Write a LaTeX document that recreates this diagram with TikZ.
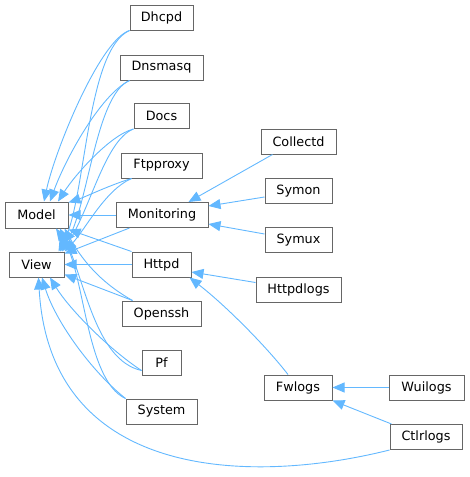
\documentclass[tikz,border=0pt]{standalone}
\usepackage{fontspec}
\setmainfont{DejaVu Sans}
\usetikzlibrary{arrows.meta}
\definecolor{edgeblue}{HTML}{63B8FF}
\definecolor{boxgray}{HTML}{666666}
\begin{document}
\begin{tikzpicture}[x=1pt,y=-1pt,
  cls/.style={draw=boxgray, fill=white, line width=1pt, minimum height=25pt, inner sep=0pt,
              font=\fontsize{12.8}{15}\selectfont, text=black},
  inh/.style={draw=edgeblue, line width=0.9pt, -{Triangle[length=12pt,width=10pt]}}]
\useasboundingbox (0,0) rectangle (469,477);
% nodes
\node[cls, minimum width=63pt] (Dhcpd) at (161.5,17.5) {Dhcpd};
\node[cls, minimum width=83pt] (Dnsmasq) at (161.5,67.5) {Dnsmasq};
\node[cls, minimum width=55pt] (Docs) at (161.5,116) {Docs};
\node[cls, minimum width=81pt] (Ftpproxy) at (161.5,165.5) {Ftpproxy};
\node[cls, minimum width=63pt, minimum height=26pt] (Model) at (36.5,215) {Model};
\node[cls, minimum width=92pt] (Monitoring) at (162,215) {Monitoring};
\node[cls, minimum width=55pt] (View) at (36.5,264.5) {View};
\node[cls, minimum width=59pt] (Httpd) at (161.5,264.5) {Httpd};
\node[cls, minimum width=79pt] (Openssh) at (161.5,313.5) {Openssh};
\node[cls, minimum width=39pt] (Pf) at (161.5,362.5) {Pf};
\node[cls, minimum width=71pt] (System) at (161.5,411.5) {System};
\node[cls, minimum width=75pt] (Collectd) at (298.5,141.5) {Collectd};
\node[cls, minimum width=67pt] (Symon) at (298.5,191) {Symon};
\node[cls, minimum width=67pt] (Symux) at (298.5,240) {Symux};
\node[cls, minimum width=85pt] (Httpdlogs) at (298.5,289.5) {Httpdlogs};
\node[cls, minimum width=68pt] (Fwlogs) at (298,387.5) {Fwlogs};
\node[cls, minimum width=75pt] (Wuilogs) at (426.5,387.5) {Wuilogs};
\node[cls, minimum width=72pt] (Ctlrlogs) at (426,437) {Ctlrlogs};
% edges into Model / View from above
\draw[inh] (Dhcpd.south west) .. controls (100,40) and (55,150) .. ([xshift=7.5pt]Model.north);
\draw[inh] (Dhcpd.south west) .. controls (86,50) and (86,200) .. ([xshift=22pt]View.north);
\draw[inh] ([xshift=10pt]Dnsmasq.south west) .. controls (100,95) and (65,160) .. ([xshift=13.5pt]Model.north);
\draw[inh] ([xshift=10pt]Dnsmasq.south west) .. controls (95,95) and (88,210) .. ([xshift=23.5pt]View.north);
\draw[inh] (Docs.south west) .. controls (110,135) and (75,175) .. ([xshift=21.5pt]Model.north);
\draw[inh] (Docs.south west) .. controls (105,140) and (90,210) .. ([xshift=25.5pt]View.north);
\draw[inh] ([xshift=11pt]Ftpproxy.south west) .. controls (110,185) and (85,197) .. ([yshift=-1pt]Model.north east);
\draw[inh] ([xshift=11pt]Ftpproxy.south west) .. controls (105,190) and (85,230) .. (View.north east);
% Monitoring
\draw[inh] (Monitoring.west) -- (Model.east);
\draw[inh] ([xshift=14pt]Monitoring.south west) -- ([yshift=-2pt]View.north east);
% Httpd
\draw[inh] (Httpd.north west) -- ([yshift=-1pt]Model.south east);
\draw[inh] (Httpd.west) -- (View.east);
% Openssh
\draw[inh] ([xshift=11pt]Openssh.north west) .. controls (105,285) and (85,265) .. ([xshift=-4pt]Model.south east);
\draw[inh] ([xshift=11pt]Openssh.north west) -- ([yshift=3pt]View.south east);
% Pf
\draw[inh] ([yshift=-8pt]Pf.west) .. controls (95,360) and (85,280) .. ([xshift=23.5pt]Model.south);
\draw[inh] ([yshift=-8pt]Pf.west) .. controls (110,350) and (70,310) .. ([xshift=13.5pt]View.south);
% System
\draw[inh] (System.north west) .. controls (85,380) and (85,270) .. ([xshift=19.5pt]Model.south);
\draw[inh] (System.north west) .. controls (90,370) and (55,320) .. ([xshift=5.5pt]View.south);
% Ctlrlogs
\draw[inh] (Ctlrlogs.south west) .. controls (250,485) and (50,480) .. ([xshift=2pt]View.south);
\draw[inh] ([xshift=2pt]Ctlrlogs.north west) -- (Fwlogs.south east);
% right side
\draw[inh] ([xshift=12pt]Collectd.south west) -- ([xshift=-20pt]Monitoring.north east);
\draw[inh] ([yshift=-6pt]Symon.west) -- ([yshift=9pt]Monitoring.east);
\draw[inh] ([yshift=6pt]Symux.west) -- ([yshift=-9pt]Monitoring.east);
\draw[inh] ([yshift=7pt]Httpdlogs.west) -- ([yshift=-7.5pt]Httpd.east);
\draw[inh] ([xshift=-10pt]Fwlogs.north) .. controls (265,345) and (225,305) .. ([xshift=-2pt]Httpd.south east);
\draw[inh] (Wuilogs.west) -- (Fwlogs.east);
\end{tikzpicture}
\end{document}
